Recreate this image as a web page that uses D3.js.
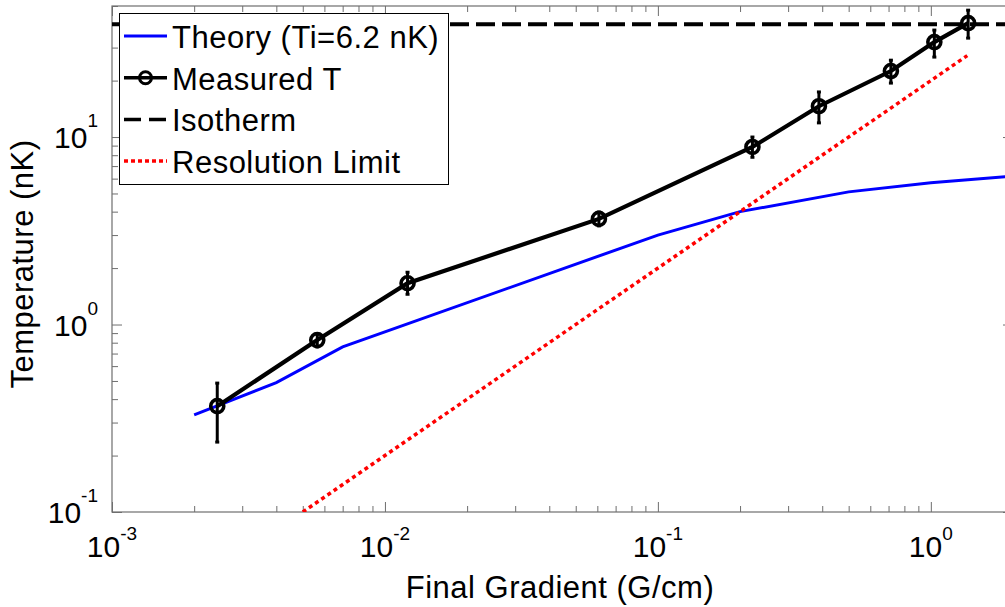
<!DOCTYPE html>
<html>
<head>
<meta charset="utf-8">
<script src="https://cdn.jsdelivr.net/npm/d3@7"></script>
<style>
  body { margin: 0; background: #fff; }
  svg { display: block; font-family: "Liberation Sans", Arial, Helvetica, sans-serif; }
</style>
</head>
<body>
<div id="chart"></div>
<script>
// tick labels (exponents of 10)
const xMajor = [1e-3, 1e-2, 1e-1, 1];
const xExp   = ['-3', '-2', '-1', '0'];
const yMajor = [0.1, 1, 10];
const yExp   = ['-1', '0', '1'];

// theory curve, Ti = 6.2 nK
const theoryG = [0.002, 0.004, 0.007, 0.1, 0.2, 0.5, 1, 2];
const theoryT = [0.33, 0.49, 0.76, 3.0, 4.0, 5.1, 5.7, 6.2];

// measured temperatures with error bars
const measG  = [0.00243, 0.00565, 0.0121, 0.0608, 0.222, 0.389, 0.714, 1.03, 1.37];
const measT  = [0.367, 0.826, 1.66, 3.66, 8.85, 14.6, 22.5, 32.1, 40.5];
const measLo = [0.236, 0.76, 1.45, 3.36, 7.8, 11.9, 19.4, 26.7, 33.7];
const measHi = [0.487, 0.89, 1.90, 3.98, 10.0, 17.4, 25.7, 37.2, 47.5];

// isotherm and resolution limit
const isoT = 40;
const resG = [0.005, 1.36];
const resT = [0.1, 27.2];

const legendNames = ['Theory (Ti=6.2 nK)', 'Measured T', 'Isotherm', 'Resolution Limit'];

const W = 1005, H = 607;
const margin = { top: 6, left: 112, bottom: 95, right: -8 };
const width  = W - margin.left - margin.right;
const height = H - margin.top - margin.bottom;

const x = d3.scaleLog().domain([1e-3, 2]).range([0, width]);
const y = d3.scaleLog().domain([0.1, 50]).range([height, 0]);

const svg = d3.select('#chart').append('svg')
    .attr('width', W)
    .attr('height', H);

const g = svg.append('g')
    .attr('transform', `translate(${margin.left},${margin.top})`);

g.append('clipPath').attr('id', 'clip')
  .append('rect').attr('width', width).attr('height', height);

// axes: ticks inward on all four sides
const xMinor = x.ticks().filter(v => !xMajor.some(m => Math.abs(m - v) < 1e-12));
const yMinor = y.ticks().filter(v => !yMajor.some(m => Math.abs(m - v) < 1e-12));
const axColor = '#6e6e6e';

function addAxis(axisFn, scale, vals, size, tr) {
  const a = g.append('g')
      .attr('transform', tr)
      .call(axisFn(scale).tickValues(vals).tickSize(size).tickSizeOuter(0).tickFormat(''));
  a.select('.domain').remove();
  a.selectAll('line').attr('stroke', axColor);
}
addAxis(d3.axisBottom, x, xMajor, -10, `translate(0,${height})`);
addAxis(d3.axisBottom, x, xMinor, -6,  `translate(0,${height})`);
addAxis(d3.axisTop,    x, xMajor, -10, 'translate(0,0)');
addAxis(d3.axisTop,    x, xMinor, -6,  'translate(0,0)');
addAxis(d3.axisLeft,   y, yMajor, -10, 'translate(0,0)');
addAxis(d3.axisLeft,   y, yMinor, -6,  'translate(0,0)');
addAxis(d3.axisRight,  y, yMajor, -10, `translate(${width},0)`);
addAxis(d3.axisRight,  y, yMinor, -6,  `translate(${width},0)`);

g.append('rect')
    .attr('width', width).attr('height', height)
    .attr('fill', 'none').attr('stroke', axColor).attr('stroke-width', 1.2);

// tick labels
xMajor.forEach((v, i) => {
  const t = g.append('text')
      .attr('x', x(v)).attr('y', height + 45)
      .attr('text-anchor', 'middle')
      .attr('font-size', 30);
  t.append('tspan').text('10');
  t.append('tspan').attr('font-size', 19).attr('dy', -17).text(xExp[i]);
});
yMajor.forEach((v, i) => {
  const t = g.append('text')
      .attr('x', -14).attr('y', y(v) + 11)
      .attr('text-anchor', 'end')
      .attr('font-size', 30);
  t.append('tspan').text('10');
  t.append('tspan').attr('font-size', 19).attr('dy', -21).text(yExp[i]);
});

// axis titles
svg.append('text')
    .attr('x', 560).attr('y', 598)
    .attr('text-anchor', 'middle')
    .attr('font-size', 31).attr('letter-spacing', 0.5)
    .text('Final Gradient (G/cm)');
svg.append('text')
    .attr('transform', 'translate(33,264) rotate(-90)')
    .attr('text-anchor', 'middle')
    .attr('font-size', 31).attr('letter-spacing', 0.5)
    .text('Temperature (nK)');

// data
const plot = g.append('g').attr('clip-path', 'url(#clip)');
const line = d3.line().x(d => x(d[0])).y(d => y(d[1]));

plot.append('path')
    .datum(theoryG.map((v, i) => [v, theoryT[i]]))
    .attr('d', line)
    .attr('fill', 'none').attr('stroke', '#0000ff').attr('stroke-width', 3);

plot.append('path')
    .datum(x.domain().map(v => [v, isoT]))
    .attr('d', line)
    .attr('fill', 'none').attr('stroke', '#000').attr('stroke-width', 4)
    .attr('stroke-dasharray', '19,7');

plot.append('path')
    .datum(resG.map((v, i) => [v, resT[i]]))
    .attr('d', line)
    .attr('fill', 'none').attr('stroke', '#ff0000').attr('stroke-width', 3.5)
    .attr('stroke-dasharray', '4,3.5');

const meas = measG.map((v, i) => ({ g: v, t: measT[i], lo: measLo[i], hi: measHi[i] }));

plot.append('path')
    .datum(meas.map(d => [d.g, d.t]))
    .attr('d', line)
    .attr('fill', 'none').attr('stroke', '#000').attr('stroke-width', 4.2);

const eb = plot.append('g').selectAll('g').data(meas).join('g')
    .attr('stroke', '#000').attr('stroke-width', 3);
eb.append('line')
    .attr('x1', d => x(d.g)).attr('x2', d => x(d.g))
    .attr('y1', d => y(d.lo)).attr('y2', d => y(d.hi));
eb.append('line')
    .attr('x1', d => x(d.g) - 2).attr('x2', d => x(d.g) + 2)
    .attr('y1', d => y(d.lo)).attr('y2', d => y(d.lo));
eb.append('line')
    .attr('x1', d => x(d.g) - 2).attr('x2', d => x(d.g) + 2)
    .attr('y1', d => y(d.hi)).attr('y2', d => y(d.hi));

plot.append('g').selectAll('circle').data(meas).join('circle')
    .attr('cx', d => x(d.g)).attr('cy', d => y(d.t))
    .attr('r', 6.5)
    .attr('fill', 'none').attr('stroke', '#000').attr('stroke-width', 3.6);

// legend
const lg = svg.append('g');
lg.append('rect')
    .attr('x', 119.5).attr('y', 13.5).attr('width', 329).attr('height', 171)
    .attr('fill', '#fff').attr('stroke', '#000').attr('stroke-width', 1);

const styles = [
  { stroke: '#0000ff', w: 3, dash: null, marker: false },
  { stroke: '#000', w: 3.5, dash: null, marker: true },
  { stroke: '#000', w: 3.5, dash: '17,8', marker: false },
  { stroke: '#ff0000', w: 3.5, dash: '4,3', marker: false }
];
legendNames.forEach((name, i) => {
  const by = 48 + i * 41.7;
  const s = styles[i];
  lg.append('line')
      .attr('x1', 124).attr('x2', 167)
      .attr('y1', by - 12).attr('y2', by - 12)
      .attr('stroke', s.stroke).attr('stroke-width', s.w)
      .attr('stroke-dasharray', s.dash);
  if (s.marker) {
    lg.append('circle')
        .attr('cx', 145.5).attr('cy', by - 12).attr('r', 6)
        .attr('fill', 'none').attr('stroke', '#000').attr('stroke-width', 3);
  }
  lg.append('text')
      .attr('x', 172).attr('y', by)
      .attr('font-size', 31).attr('letter-spacing', 0.5)
      .text(name);
});
</script>
</body>
</html>
